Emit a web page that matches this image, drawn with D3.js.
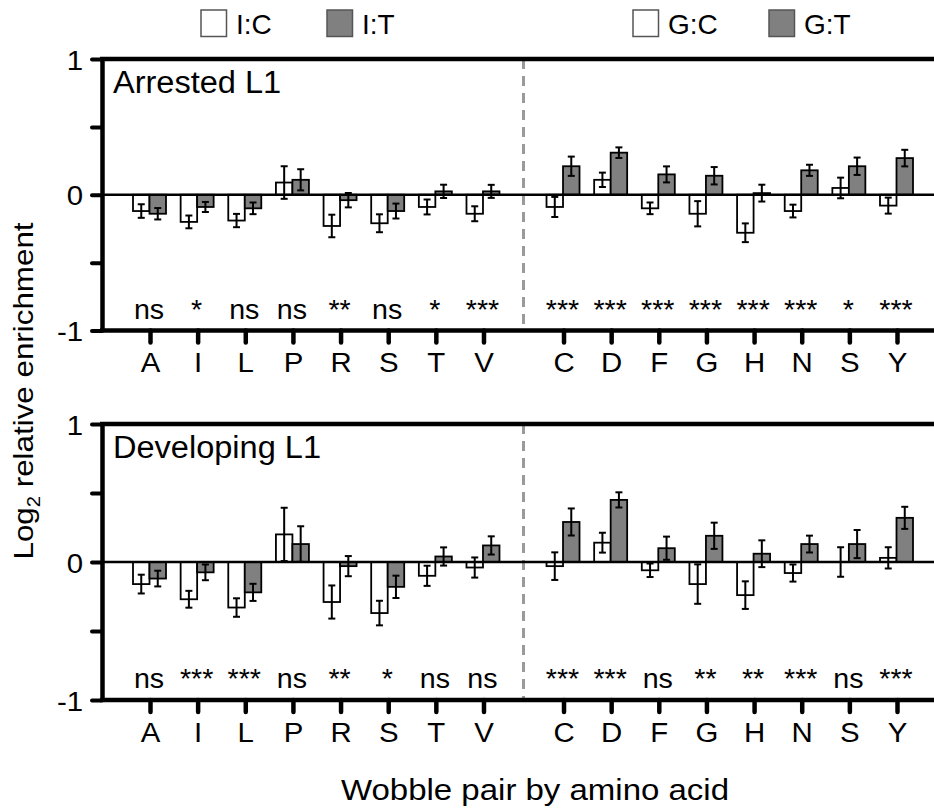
<!DOCTYPE html>
<html>
<head>
<meta charset="utf-8">
<script src="https://cdn.jsdelivr.net/npm/d3@7"></script>
<style>
  html, body { margin: 0; padding: 0; background: #fff; }
  svg { display: block; font-family: "Liberation Sans", Arial, Helvetica, sans-serif; }
</style>
</head>
<body>
<svg id="chart" width="934" height="809"></svg>
<script>
// Amino acids, grouped by wobble pair (first 8: inosine wobble, last 8: G wobble)
const categories = ["A","I","L","P","R","S","T","V","C","D","F","G","H","N","S","Y"];
const legendLabels = ["I:C", "I:T", "G:C", "G:T"];
const yTicks = [-1, -0.5, 0, 0.5, 1];

// Arrested L1: Watson-Crick pair (white) and wobble pair (grey), mean ± SEM
const arrestedWC     = [-0.12, -0.20, -0.19, 0.09, -0.23, -0.21, -0.09, -0.14, -0.09, 0.11, -0.10, -0.14, -0.28, -0.12, 0.05, -0.08];
const arrestedWCErr  = [0.050, 0.047, 0.049, 0.120, 0.083, 0.066, 0.055, 0.055, 0.074, 0.053, 0.043, 0.093, 0.069, 0.047, 0.076, 0.059];
const arrestedWob    = [-0.14, -0.09, -0.10, 0.11, -0.04, -0.12, 0.025, 0.025, 0.21, 0.31, 0.15, 0.14, 0.012, 0.18, 0.21, 0.27];
const arrestedWobErr = [0.042, 0.037, 0.043, 0.078, 0.053, 0.055, 0.049, 0.048, 0.071, 0.039, 0.059, 0.064, 0.062, 0.041, 0.064, 0.061];
const arrestedSig    = ["ns","*","ns","ns","**","ns","*","***","***","***","***","***","***","***","*","***"];

// Developing L1
const developingWC     = [-0.16, -0.27, -0.33, 0.20, -0.29, -0.37, -0.10, -0.04, -0.03, 0.14, -0.06, -0.16, -0.24, -0.08, 0.0, 0.03];
const developingWCErr  = [0.068, 0.061, 0.067, 0.193, 0.120, 0.089, 0.073, 0.073, 0.100, 0.072, 0.049, 0.143, 0.100, 0.062, 0.107, 0.077];
const developingWob    = [-0.12, -0.075, -0.22, 0.13, -0.03, -0.18, 0.04, 0.12, 0.29, 0.45, 0.10, 0.19, 0.06, 0.13, 0.13, 0.32];
const developingWobErr = [0.057, 0.057, 0.062, 0.129, 0.073, 0.081, 0.066, 0.066, 0.098, 0.055, 0.084, 0.095, 0.097, 0.061, 0.102, 0.080];
const developingSig    = ["ns","***","***","ns","**","*","ns","ns","***","***","ns","**","**","***","ns","***"];

const svg = d3.select("#chart");
const W = 934;
const axisX = 102;
const groupSize = 8;
const groupGap = 0.68;   // extra spacing between the two wobble groups, in slot units
const barW = 16.5;
const grey = "#808080";

// slot position of each category (second group shifted by the gap)
const slot = i => i < groupSize ? i : i + groupGap;
const x = d3.scaleLinear().domain([0, categories.length - 1 + groupGap]).range([150, 897]);
const dividerX = (x(slot(groupSize - 1)) + x(slot(groupSize))) / 2;

// text placed at (tx, ty) and widened slightly along its reading direction
function wideText(sel, tx, ty, sx, rot) {
  return sel.append("text")
    .attr("transform", `translate(${tx},${ty})${rot ? ` rotate(${rot})` : ""} scale(${sx},1)`);
}

const panels = [
  { title: "Arrested L1",   range: [330.5, 59],  wc: arrestedWC,   wcErr: arrestedWCErr,   wob: arrestedWob,   wobErr: arrestedWobErr,   sig: arrestedSig },
  { title: "Developing L1", range: [700, 424],   wc: developingWC, wcErr: developingWCErr, wob: developingWob, wobErr: developingWobErr, sig: developingSig }
];

panels.forEach(p => {
  const y = d3.scaleLinear().domain([-1, 1]).range(p.range);
  const g = svg.append("g");

  // dashed divider between the two groups
  g.append("line")
    .attr("x1", dividerX).attr("x2", dividerX)
    .attr("y1", y(1)).attr("y2", y(-1))
    .attr("stroke", "#9a9a9a").attr("stroke-width", 3)
    .attr("stroke-dasharray", "10,7");

  const series = [
    { vals: p.wc,  errs: p.wcErr,  fill: "#fff", offset: -1 },
    { vals: p.wob, errs: p.wobErr, fill: grey,   offset: 0 }
  ];

  series.forEach(s => {
    const bx = i => x(slot(i)) + s.offset * barW - 0.5;
    g.append("g").selectAll("rect").data(s.vals).join("rect")
      .attr("x", (d, i) => bx(i))
      .attr("y", d => y(Math.max(0, d)))
      .attr("width", barW)
      .attr("height", d => Math.abs(y(d) - y(0)))
      .attr("fill", s.fill)
      .attr("stroke", "#000").attr("stroke-width", 1.8);

    // error bars with caps
    const eg = g.append("g").attr("stroke", "#000").attr("stroke-width", 2);
    s.vals.forEach((d, i) => {
      const cx = bx(i) + barW / 2;
      const y1 = y(d - s.errs[i]), y2 = y(d + s.errs[i]);
      eg.append("line").attr("x1", cx).attr("x2", cx).attr("y1", y1).attr("y2", y2);
      eg.append("line").attr("x1", cx - 3.5).attr("x2", cx + 3.5).attr("y1", y1).attr("y2", y1);
      eg.append("line").attr("x1", cx - 3.5).attr("x2", cx + 3.5).attr("y1", y2).attr("y2", y2);
    });
  });

  // zero line
  g.append("line")
    .attr("x1", axisX).attr("x2", W)
    .attr("y1", y(0)).attr("y2", y(0))
    .attr("stroke", "#000").attr("stroke-width", 2.5);

  // top frame line and bottom axis line
  g.append("line").attr("x1", axisX - 2).attr("x2", W).attr("y1", y(1)).attr("y2", y(1))
    .attr("stroke", "#000").attr("stroke-width", 4.5);
  g.append("line").attr("x1", axisX - 2).attr("x2", W).attr("y1", y(-1)).attr("y2", y(-1))
    .attr("stroke", "#000").attr("stroke-width", 4.5);

  // y axis
  const ya = g.append("g").attr("transform", `translate(${axisX},0)`)
    .call(d3.axisLeft(y).tickValues(yTicks).tickSize(10).tickSizeOuter(0)
      .tickFormat(d => Number.isInteger(d) ? (d < 0 ? "-" + Math.abs(d) : String(d)) : ""));
  ya.select(".domain").attr("stroke-width", 4.5);
  ya.selectAll(".tick line").attr("stroke-width", 4).attr("stroke-linecap", "round");
  ya.selectAll(".tick text").attr("font-size", 28).attr("fill", "#000")
    .attr("font-family", "Liberation Sans, Arial, sans-serif")
    .attr("x", -19 / 1.05).attr("dy", "0.36em").attr("transform", "scale(1.05,1)");

  // x axis (category ticks)
  const xa = g.append("g").attr("transform", `translate(0,${y(-1)})`)
    .call(d3.axisBottom(x).tickValues(categories.map((c, i) => slot(i)))
      .tickSize(12).tickFormat((d, i) => categories[i]));
  xa.select(".domain").remove();
  xa.selectAll(".tick line").attr("stroke-width", 4.5).attr("stroke-linecap", "round");
  xa.selectAll(".tick text").attr("font-size", 28).attr("fill", "#000")
    .attr("font-family", "Liberation Sans, Arial, sans-serif")
    .attr("y", 42).attr("dy", 0).attr("transform", "scale(1.05,1)");

  // significance labels
  p.sig.forEach((d, i) => {
    wideText(g, x(slot(i)) - 1, y(-1) - 12, 1.06)
      .attr("text-anchor", "middle")
      .attr("font-size", 27)
      .text(d);
  });

  // panel title
  wideText(g, axisX + 11, y(1) + 34, 1.05)
    .attr("font-size", 31)
    .text(p.title);
});

// legend
const legendItems = [
  { label: legendLabels[0], fill: "#fff", x: 201 },
  { label: legendLabels[1], fill: grey,   x: 327 },
  { label: legendLabels[2], fill: "#fff", x: 633 },
  { label: legendLabels[3], fill: grey,   x: 769 }
];
const lg = svg.append("g");
legendItems.forEach(it => {
  lg.append("rect").attr("x", it.x).attr("y", 10).attr("width", 25.5).attr("height", 26.5)
    .attr("fill", it.fill).attr("stroke", "#555").attr("stroke-width", 1.5);
  lg.append("text").attr("x", it.x + 35).attr("y", 34)
    .attr("font-size", 28).text(it.label);
});

// axis titles
wideText(svg, 33, 391, 1.12, -90)
  .attr("text-anchor", "middle")
  .attr("font-size", 28)
  .html('Log<tspan font-size="18" dy="7">2</tspan><tspan dy="-7"> relative enrichment</tspan>');

wideText(svg, 535, 800, 1.1)
  .attr("text-anchor", "middle")
  .attr("font-size", 30)
  .text("Wobble pair by amino acid");
</script>
</body>
</html>
